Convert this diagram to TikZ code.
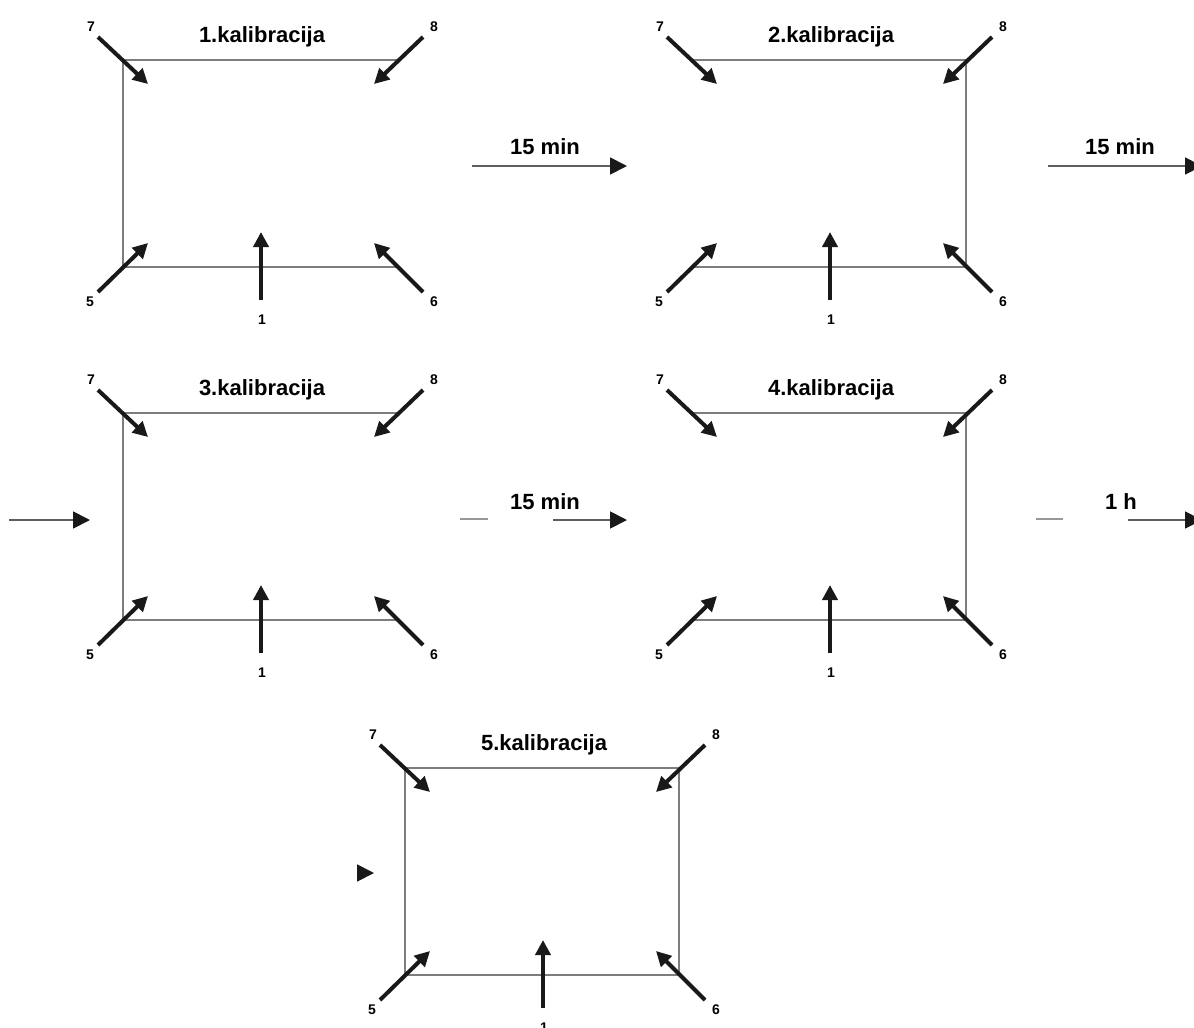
\documentclass[tikz,border=0pt]{standalone}
\usepackage{fontspec}
\setmainfont{Liberation Sans}
\usepackage{xcolor}
\usepackage{tikz}
\usetikzlibrary{arrows.meta}
\definecolor{framegray}{RGB}{125,125,125}
\definecolor{flowgray}{RGB}{95,95,95}
\tikzstyle{frameline} = [draw=framegray, line width=2pt, line cap=rect]
\tikzstyle{sensor} = [-{Triangle[length=15pt, width=15pt]}, line width=4pt, draw=black!90]
\tikzstyle{flow} = [-{Triangle[length=17pt, width=17pt, color=black!90]}, line width=1.8pt, draw=flowgray]
\tikzstyle{gap} = [draw=framegray!80, line width=2pt]
\tikzstyle{numlabel} = [font=\fontsize{14}{16}\selectfont\bfseries, inner sep=0pt]
\tikzstyle{titlelabel} = [font=\fontsize{22}{26}\selectfont\bfseries, inner sep=0pt]

\begin{document}
\begin{tikzpicture}[x=1pt, y=-1pt]
    \clip (0,0) rectangle (1194,1028);
    % five calibration frames: index / offset / left side / right side
    \foreach \k/\px/\py/\lf/\rt in {1/123/60/1/0, 2/692/60/0/1, 3/123/413/1/0, 4/692/413/0/1, 5/405/768/1/1} {
        \begin{scope}[shift={(\px,\py)}]
            \coordinate (tl\k) at (0,0);
            \coordinate (tr\k) at (274,0);
            \coordinate (bl\k) at (0,207);
            \coordinate (br\k) at (274,207);
            \draw[frameline] (tl\k) -- (tr\k);
            \draw[frameline] (bl\k) -- (br\k);
            \ifnum\lf=1 \draw[frameline] (tl\k) -- (bl\k); \fi
            \ifnum\rt=1 \draw[frameline] (tr\k) -- (br\k); \fi
            \node[titlelabel] (title\k) at (139,-23) {\k.kalibracija};
            % sensor positions
            \node[numlabel] (n7-\k) at (-32,-33) {7};
            \node[numlabel] (n8-\k) at (311,-33) {8};
            \node[numlabel] (n5-\k) at (-33,242) {5};
            \node[numlabel] (n6-\k) at (311,242) {6};
            \node[numlabel] (n1-\k) at (139,260) {1};
            \coordinate (s7t\k) at (-25,-23);
            \coordinate (s7h\k) at (25,24);
            \coordinate (s8t\k) at (300,-23);
            \coordinate (s8h\k) at (251,24);
            \coordinate (s5t\k) at (-25,232);
            \coordinate (s5h\k) at (25,183);
            \coordinate (s6t\k) at (300,232);
            \coordinate (s6h\k) at (251,183);
            \coordinate (s1t\k) at (138,240);
            \coordinate (s1h\k) at (138,172);
            \foreach \s in {7,8,5,6,1} \draw[sensor] (s\s t\k) -- (s\s h\k);
        \end{scope}
    }
    % time steps between the calibrations
    \coordinate (a1s) at (472,166);
    \coordinate (a1e) at (627,166);
    \draw[flow] (a1s) -- (a1e);
    \node[titlelabel] (t1) at (545,147) {15 min};
    \coordinate (a2s) at (1048,166);
    \coordinate (a2e) at (1202,166);
    \draw[flow] (a2s) -- (a2e);
    \node[titlelabel] (t2) at (1120,147) {15 min};
    \coordinate (a3s) at (9,520);
    \coordinate (a3e) at (90,520);
    \draw[flow] (a3s) -- (a3e);
    \coordinate (g4s) at (460,519);
    \coordinate (g4e) at (488,519);
    \draw[gap] (g4s) -- (g4e);
    \coordinate (a4s) at (553,520);
    \coordinate (a4e) at (627,520);
    \draw[flow] (a4s) -- (a4e);
    \node[titlelabel] (t4) at (545,502) {15 min};
    \coordinate (g5s) at (1036,519);
    \coordinate (g5e) at (1063,519);
    \draw[gap] (g5s) -- (g5e);
    \coordinate (a5s) at (1128,520);
    \coordinate (a5e) at (1202,520);
    \draw[flow] (a5s) -- (a5e);
    \node[titlelabel] (t5) at (1121,502) {1 h};
    \coordinate (a6s) at (357,873);
    \coordinate (a6e) at (374,873);
    \draw[flow] (a6s) -- (a6e);
\end{tikzpicture}
\end{document}
